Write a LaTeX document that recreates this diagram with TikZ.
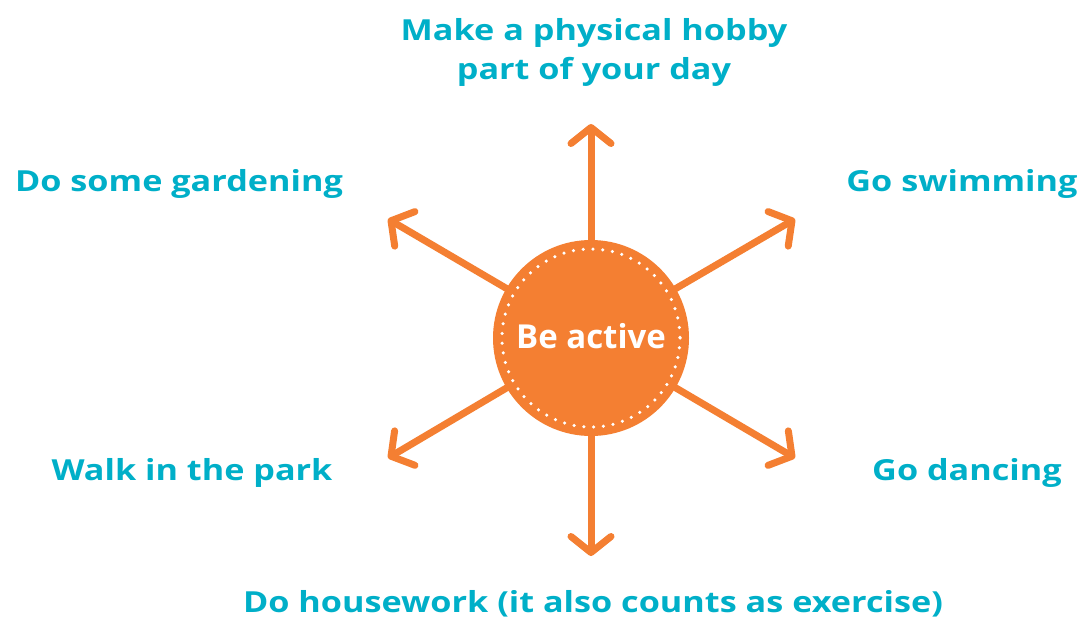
\documentclass[tikz,border=0pt]{standalone}
\usepackage{fontspec}
\setmainfont{Open Sans}[UprightFont=* Bold]
\newfontfamily\widefont{Open Sans}[UprightFont=* Bold, FakeStretch=1.18]
\usetikzlibrary{arrows.meta}
\definecolor{ora}{HTML}{F47F32}
\definecolor{teal}{HTML}{00AFC8}
\tikzset{
  lbl/.style={text=teal, font=\widefont\fontsize{29}{39}\selectfont, inner sep=0pt, align=center},
  spoke/.style={draw=ora, line width=7pt, -{Straight Barb[round,length=16pt,width=40pt]}},
}
\begin{document}
\begin{tikzpicture}[x=1pt,y=-1pt]
\useasboundingbox (0,0) rectangle (1082,619);
\coordinate (c) at (591,338);
\coordinate (tn) at (591,124);
\coordinate (ts) at (591,556);
\coordinate (tnw) at (388,219);
\coordinate (tne) at (795,219);
\coordinate (tsw) at (388,458);
\coordinate (tse) at (795,458);
\foreach \t in {tn,ts,tnw,tne,tsw,tse} \draw[spoke] (c) -- (\t);
\node[circle, fill=ora, minimum size=196pt, inner sep=0pt] (hub) at (c) {};
\draw[white, line width=3.5pt, line cap=round, dash pattern=on 0pt off 9.8pt] (c) circle[radius=89];
\node[text=white, font=\fontsize{33}{36}\selectfont, inner sep=0pt] (ba) at (591,336) {Be active};
\node[lbl] (n) at (594,52) {Make a physical hobby\\part of your day};
\node[lbl] (nw) at (179,184) {Do some gardening};
\node[lbl] (ne) at (962,184) {Go swimming};
\node[lbl] (sw) at (192,473) {Walk in the park};
\node[lbl] (se) at (967,473) {Go dancing};
\node[lbl] (s) at (593,604) {Do housework (it also counts as exercise)};
\end{tikzpicture}
\end{document}
